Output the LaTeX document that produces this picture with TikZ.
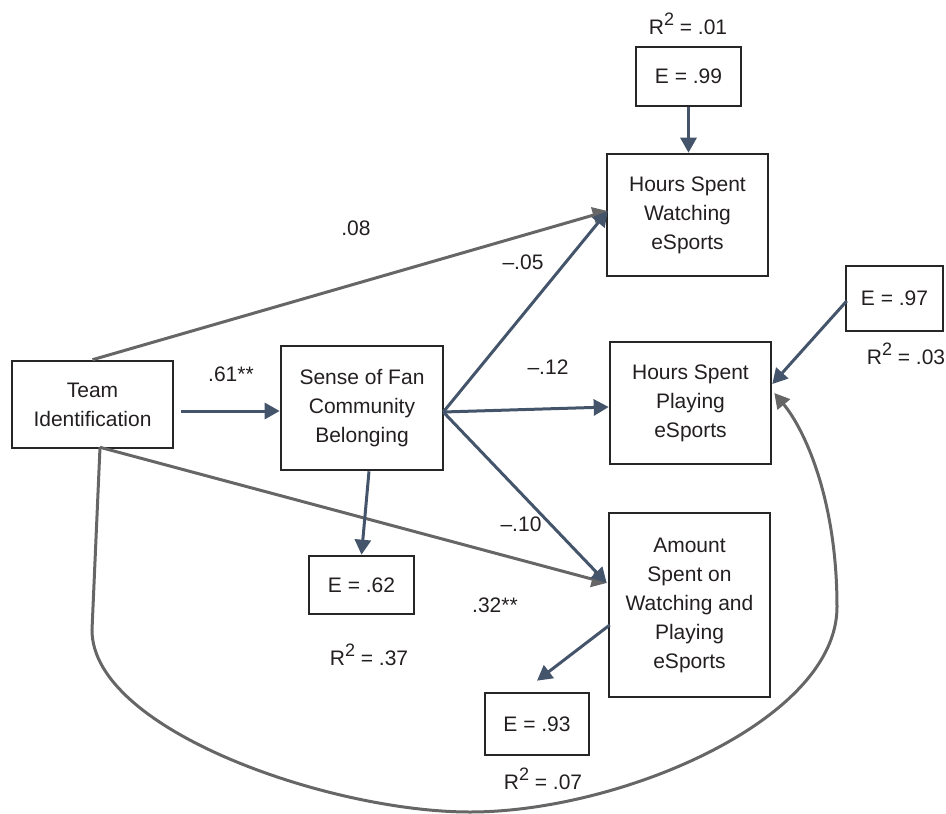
\documentclass[tikz,border=0pt]{standalone}
\usepackage{fontspec}
\setmainfont{Liberation Sans}
\usetikzlibrary{arrows.meta,calc}
\definecolor{boxc}{HTML}{262626}
\definecolor{bluec}{HTML}{44546A}
\definecolor{grayc}{HTML}{666666}
\definecolor{txtc}{HTML}{231F20}
\newcommand{\rsq}{R\raisebox{0.40em}{\fontsize{18}{18}\selectfont 2}}
\begin{document}
\begin{tikzpicture}[x=1pt,y=-1pt,
  every node/.style={font=\fontsize{21}{29}\selectfont, text=txtc},
  varbox/.style={draw=boxc, line width=2.6pt, align=center, inner sep=0pt},
  lbl/.style={inner sep=0pt},
  bluearrow/.style={draw=bluec, line width=3pt, -{Triangle[length=15pt,width=16pt]}},
  grayarrow/.style={draw=grayc, line width=3pt, -{Triangle[length=15pt,width=16pt]}}]
\useasboundingbox (0,0) rectangle (946,814);

% boxes
\node[varbox, minimum width=161, minimum height=87] (team) at (92.5,404.5) {Team\\Identification};
\node[varbox, minimum width=162, minimum height=124] (sense) at (362,408) {Sense of Fan\\Community\\Belonging};
\node[varbox, minimum width=105, minimum height=58] (e62) at (361.5,585) {E = .62};
\node[varbox, minimum width=105, minimum height=59] (e99) at (688.5,76.5) {E = .99};
\node[varbox, minimum width=161, minimum height=122] (watch) at (687.5,215) {Hours Spent\\Watching\\eSports};
\node[varbox, minimum width=97, minimum height=65] (e97) at (894.5,298.5) {E = .97};
\node[varbox, minimum width=161, minimum height=122] (play) at (690.5,403) {Hours Spent\\Playing\\eSports};
\node[varbox, minimum width=161, minimum height=184] (amount) at (689.5,605) {Amount\\Spent on\\Watching and\\Playing\\eSports};
\node[varbox, minimum width=104, minimum height=62] (e93) at (537,724) {E = .93};

% labels
\node[lbl] (l61) at (231,374) {.61**};
\node[lbl] (l08) at (356,228) {.08};
\node[lbl] (l05) at (523,262) {\textendash.05};
\node[lbl] (l12) at (548,367) {\textendash.12};
\node[lbl] (l10) at (521,524) {\textendash.10};
\node[lbl] (l32) at (495,605) {.32**};
\node[lbl] (r37) at (369,655) {\rsq{} = .37};
\node[lbl] (r01) at (688,24) {\rsq{} = .01};
\node[lbl] (r03) at (906,354) {\rsq{} = .03};
\node[lbl] (r07) at (543,779) {\rsq{} = .07};

% anchor coordinates
\coordinate (tbot) at ($(team.south)+(7.5,-2)$);
\coordinate (sfan) at ($(sense.east)+(-1,4)$);
\coordinate (wend) at ($(watch.west)+(2,-4)$);
\coordinate (aend) at ($(amount.west)+(-1,-22)$);
\coordinate (e93tip) at ($(e93.north)+(0,-11)$);

% connectors
\draw[bluearrow] ($(team.east)+(7,6.5)$) -- ($(sense.west)+(0,3)$);
\draw[grayarrow] (team.north) -- (wend);
\draw[grayarrow] (tbot) -- (aend);
\draw[bluearrow] (sfan) -- (wend);
\draw[bluearrow] (sfan) -- ($(play.west)+(0,4)$);
\draw[bluearrow] (sfan) -- (aend);
\draw[bluearrow] ($(sense.south)+(7,0)$) -- (e62.north);
\draw[bluearrow] (e99.south) -- (e99.south |- watch.north);
\draw[bluearrow] ($(e97.west)+(2,2.5)$) -- ($(play.east)+(0,-19)$);
\draw[bluearrow] ($(amount.west)+(2,20)$) -- (e93tip);
\draw[grayarrow] (tbot) -- (92,630)
  .. controls (92,730) and (330,812) .. (470,812)
  .. controls (620,812) and (837,720) .. (837,607)
  .. controls (837,500) and (805,430) .. ($(play.east)+(2,-10)$);
\end{tikzpicture}
\end{document}
